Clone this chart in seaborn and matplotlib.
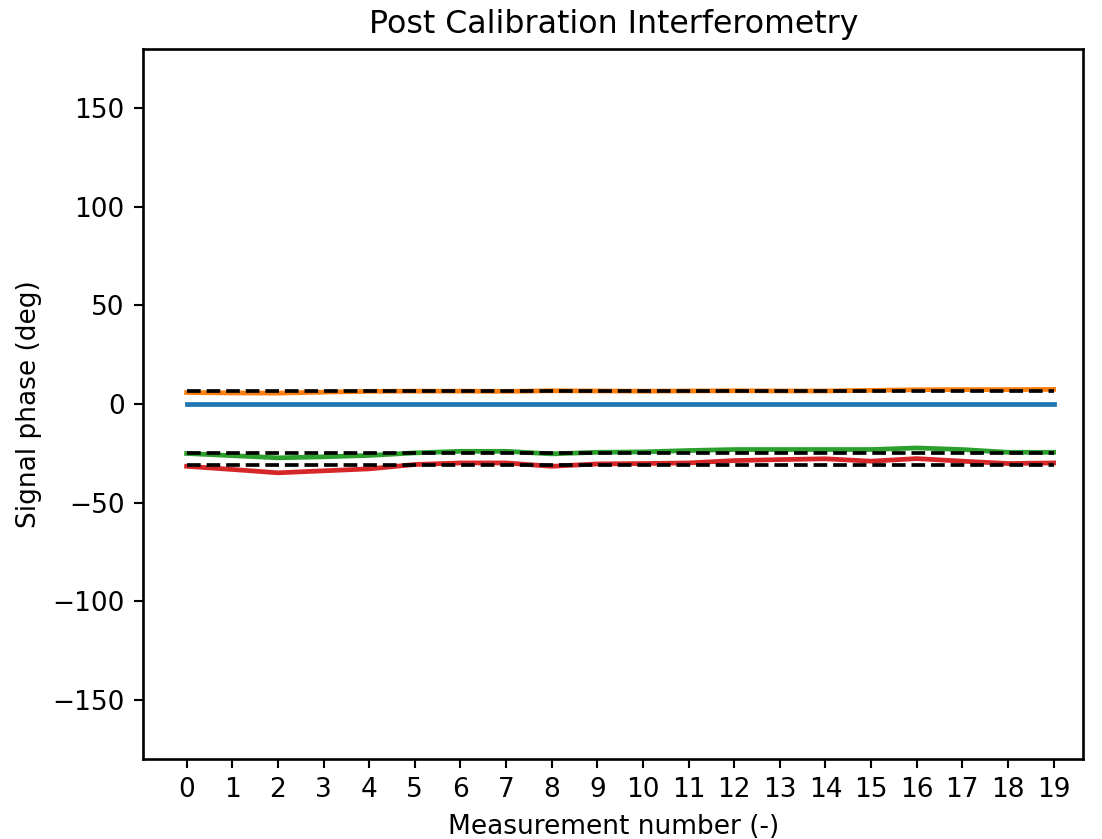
import matplotlib
matplotlib.use('Agg')
import matplotlib.pyplot as plt
import seaborn as sns
import pandas as pd

# measurement index
meas = list(range(20))

# phase per channel (deg)
ch0 = [0.0] * 20
ch1 = [5.8, 5.6, 5.5, 6.0, 6.4, 6.5, 6.5, 6.4, 6.7, 6.6,
       6.5, 6.6, 6.7, 6.6, 6.6, 6.9, 7.2, 7.3, 7.3, 7.4]
ch2 = [-25.1, -26.2, -27.3, -26.8, -26.1, -24.8, -24.0, -24.0, -25.3, -24.5,
       -24.3, -23.6, -23.1, -23.1, -23.1, -23.1, -22.3, -23.1, -24.5, -24.5]
ch3 = [-31.6, -33.2, -34.9, -33.9, -32.9, -30.7, -29.9, -29.9, -31.6, -30.4,
       -30.2, -29.9, -28.7, -28.2, -27.8, -29.0, -27.7, -29.0, -30.2, -29.9]

# reference phases (dashed)
ref1 = 6.5
ref2 = -25.0
ref3 = -30.9

colors = ['#1f77b4', '#ff7f0e', '#2ca02c', '#d62728']

DPI = 190


def draw_graph():
    fig = plt.figure(figsize=(1102 / DPI, 839 / DPI), dpi=DPI)
    ax = fig.add_axes([0.130, 0.0954, 0.853, 0.8462])

    sns.lineplot(x=meas, y=ch0, color=colors[0], lw=1.8, ax=ax)
    sns.lineplot(x=meas, y=ch1, color=colors[1], lw=1.8, ax=ax)
    sns.lineplot(x=meas, y=[ref1] * len(meas), color='k', lw=1.4, linestyle='--', ax=ax)
    sns.lineplot(x=meas, y=ch2, color=colors[2], lw=1.8, ax=ax)
    sns.lineplot(x=meas, y=[ref2] * len(meas), color='k', lw=1.4, linestyle='--', ax=ax)
    sns.lineplot(x=meas, y=ch3, color=colors[3], lw=1.8, ax=ax)
    sns.lineplot(x=meas, y=[ref3] * len(meas), color='k', lw=1.4, linestyle='--', ax=ax)

    ax.set_xlim(-0.95, 19.65)
    ax.set_ylim(-180, 180)
    ax.set_xticks(meas)
    ax.set_yticks([-150, -100, -50, 0, 50, 100, 150])
    ax.set_xlabel('Measurement number (-)')
    ax.set_ylabel('Signal phase (deg)')
    ax.set_title('Post Calibration Interferometry')
    for s in ax.spines.values():
        s.set_linewidth(1.0)

    fig.savefig('out.png', dpi=DPI)


def main():
    draw_graph()


if __name__ == '__main__':
    main()
